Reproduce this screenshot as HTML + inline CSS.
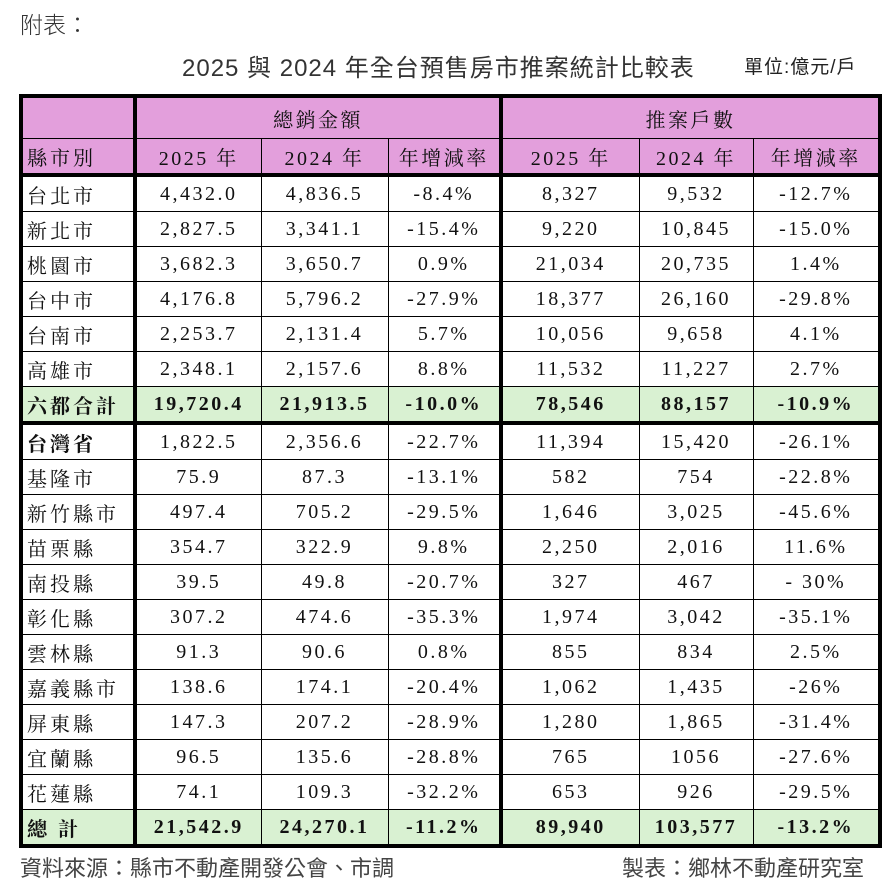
<!DOCTYPE html>
<html><head><meta charset="utf-8"><style>
body{margin:0;width:896px;height:889px;background:#fff;position:relative;overflow:hidden;font-family:"Liberation Sans","Noto Sans CJK TC",sans-serif}
.t{position:absolute;color:#333;white-space:nowrap}
table{position:absolute;left:19px;top:94px;width:863px;border-collapse:collapse;table-layout:fixed;border:4px solid #000;font-family:"Liberation Serif","Noto Serif CJK TC",serif;font-size:20px;color:#111;letter-spacing:2.5px}
td{border:1px solid #000;text-align:center;padding:0;height:34px;white-space:nowrap;overflow:hidden}
td:first-child{text-align:left;padding-left:4px;border-right:4px solid #000;font-family:"Noto Serif CJK TC",serif;letter-spacing:3px}
.h td{background:#e39fdc}
.g td{background:#d9f1d2;font-weight:bold}
.sep{border-left:4px solid #000}
.tb td{border-bottom:4px solid #000}
</style></head><body>
<div class="t" style="left:20px;top:6px;font-size:23px;font-weight:300">附表：</div>
<div class="t" style="left:182px;top:48px;font-size:24px;letter-spacing:1px">2025 與 2024 年全台預售房市推案統計比較表</div>
<div class="t" style="left:744px;top:52px;font-size:19px;color:#222;letter-spacing:1px">單位:億元/戶</div>
<table>
<colgroup><col style="width:114px"><col style="width:126px"><col style="width:127px"><col style="width:113px"><col style="width:138px"><col style="width:114px"><col style="width:127px"></colgroup>
<tr class="h"><td style="height:40px"></td><td colspan="3">總銷金額</td><td colspan="3" class="sep">推案戶數</td></tr>
<tr class="h tb"><td>縣市別</td><td>2025 年</td><td>2024 年</td><td>年增減率</td><td class="sep">2025 年</td><td>2024 年</td><td>年增減率</td></tr>
<tr><td>台北市</td><td>4,432.0</td><td>4,836.5</td><td>-8.4%</td><td class="sep">8,327</td><td>9,532</td><td>-12.7%</td></tr>
<tr><td>新北市</td><td>2,827.5</td><td>3,341.1</td><td>-15.4%</td><td class="sep">9,220</td><td>10,845</td><td>-15.0%</td></tr>
<tr><td>桃園市</td><td>3,682.3</td><td>3,650.7</td><td>0.9%</td><td class="sep">21,034</td><td>20,735</td><td>1.4%</td></tr>
<tr><td>台中市</td><td>4,176.8</td><td>5,796.2</td><td>-27.9%</td><td class="sep">18,377</td><td>26,160</td><td>-29.8%</td></tr>
<tr><td>台南市</td><td>2,253.7</td><td>2,131.4</td><td>5.7%</td><td class="sep">10,056</td><td>9,658</td><td>4.1%</td></tr>
<tr><td>高雄市</td><td>2,348.1</td><td>2,157.6</td><td>8.8%</td><td class="sep">11,532</td><td>11,227</td><td>2.7%</td></tr>
<tr class="g tb"><td>六都合計</td><td>19,720.4</td><td>21,913.5</td><td>-10.0%</td><td class="sep">78,546</td><td>88,157</td><td>-10.9%</td></tr>
<tr><td style="font-weight:bold">台灣省</td><td>1,822.5</td><td>2,356.6</td><td>-22.7%</td><td class="sep">11,394</td><td>15,420</td><td>-26.1%</td></tr>
<tr><td>基隆市</td><td>75.9</td><td>87.3</td><td>-13.1%</td><td class="sep">582</td><td>754</td><td>-22.8%</td></tr>
<tr><td>新竹縣市</td><td>497.4</td><td>705.2</td><td>-29.5%</td><td class="sep">1,646</td><td>3,025</td><td>-45.6%</td></tr>
<tr><td>苗栗縣</td><td>354.7</td><td>322.9</td><td>9.8%</td><td class="sep">2,250</td><td>2,016</td><td>11.6%</td></tr>
<tr><td>南投縣</td><td>39.5</td><td>49.8</td><td>-20.7%</td><td class="sep">327</td><td>467</td><td>- 30%</td></tr>
<tr><td>彰化縣</td><td>307.2</td><td>474.6</td><td>-35.3%</td><td class="sep">1,974</td><td>3,042</td><td>-35.1%</td></tr>
<tr><td>雲林縣</td><td>91.3</td><td>90.6</td><td>0.8%</td><td class="sep">855</td><td>834</td><td>2.5%</td></tr>
<tr><td>嘉義縣市</td><td>138.6</td><td>174.1</td><td>-20.4%</td><td class="sep">1,062</td><td>1,435</td><td>-26%</td></tr>
<tr><td>屏東縣</td><td>147.3</td><td>207.2</td><td>-28.9%</td><td class="sep">1,280</td><td>1,865</td><td>-31.4%</td></tr>
<tr><td>宜蘭縣</td><td>96.5</td><td>135.6</td><td>-28.8%</td><td class="sep">765</td><td>1056</td><td>-27.6%</td></tr>
<tr><td>花蓮縣</td><td>74.1</td><td>109.3</td><td>-32.2%</td><td class="sep">653</td><td>926</td><td>-29.5%</td></tr>
<tr class="g"><td>總&nbsp;計</td><td>21,542.9</td><td>24,270.1</td><td>-11.2%</td><td class="sep">89,940</td><td>103,577</td><td>-13.2%</td></tr>
</table>
<div class="t" style="left:20px;top:851px;font-size:22px;color:#444">資料來源：縣市不動產開發公會、市調</div>
<div class="t" style="left:622px;top:851px;font-size:22px;color:#444">製表：鄉林不動產研究室</div>
</body></html>
